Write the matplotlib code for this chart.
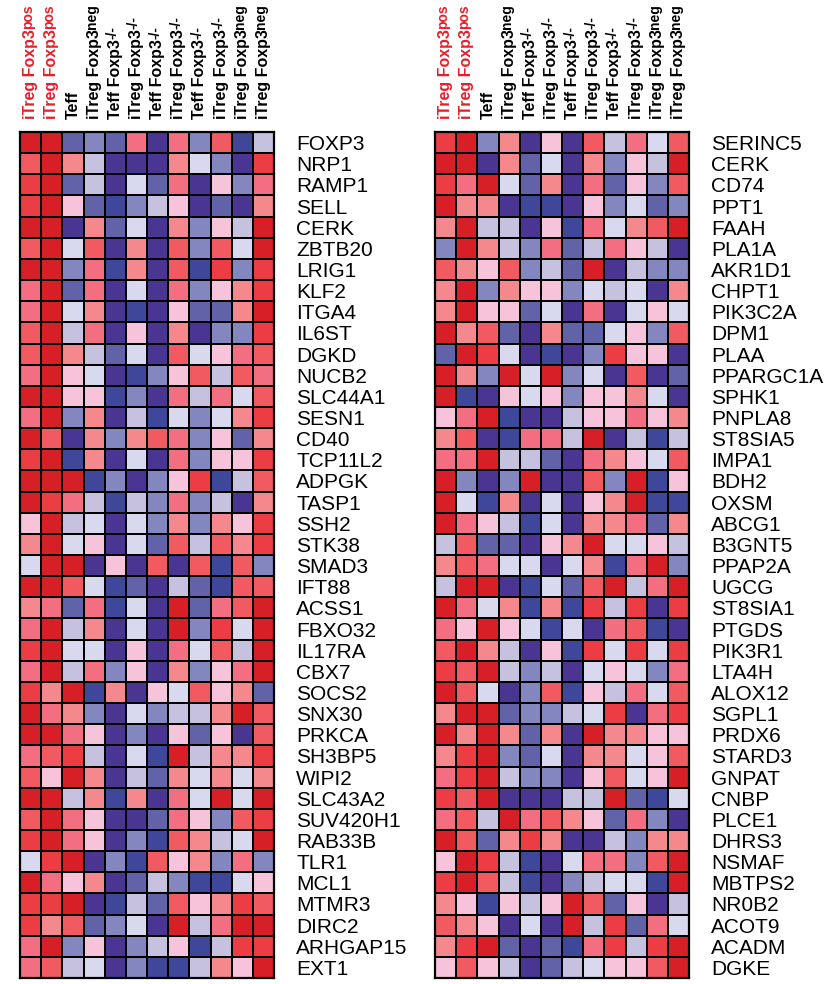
import numpy as np
import matplotlib
matplotlib.use("Agg")
import matplotlib.pyplot as plt
from matplotlib.colors import ListedColormap, BoundaryNorm

plt.rcParams['font.family'] = ['Liberation Sans', 'DejaVu Sans']

# Sample columns: (label, superscript, highlighted)
columns = [
    ("iTreg Foxp3", "pos", True),
    ("iTreg Foxp3", "pos", True),
    ("Teff", "", False),
    ("iTreg Foxp3", "neg", False),
    ("Teff Foxp3", "-/-", False),
    ("iTreg Foxp3", "-/-", False),
    ("Teff Foxp3", "-/-", False),
    ("iTreg Foxp3", "-/-", False),
    ("Teff Foxp3", "-/-", False),
    ("iTreg Foxp3", "-/-", False),
    ("iTreg Foxp3", "neg", False),
    ("iTreg Foxp3", "neg", False),
]

left_genes = ["FOXP3", "NRP1", "RAMP1", "SELL", "CERK", "ZBTB20", "LRIG1", "KLF2",
              "ITGA4", "IL6ST", "DGKD", "NUCB2", "SLC44A1", "SESN1", "CD40", "TCP11L2",
              "ADPGK", "TASP1", "SSH2", "STK38", "SMAD3", "IFT88", "ACSS1", "FBXO32",
              "IL17RA", "CBX7", "SOCS2", "SNX30", "PRKCA", "SH3BP5", "WIPI2", "SLC43A2",
              "SUV420H1", "RAB33B", "TLR1", "MCL1", "MTMR3", "DIRC2", "ARHGAP15", "EXT1"]

right_genes = ["SERINC5", "CERK", "CD74", "PPT1", "FAAH", "PLA1A", "AKR1D1", "CHPT1",
               "PIK3C2A", "DPM1", "PLAA", "PPARGC1A", "SPHK1", "PNPLA8", "ST8SIA5", "IMPA1",
               "BDH2", "OXSM", "ABCG1", "B3GNT5", "PPAP2A", "UGCG", "ST8SIA1", "PTGDS",
               "PIK3R1", "LTA4H", "ALOX12", "SGPL1", "PRDX6", "STARD3", "GNPAT", "CNBP",
               "PLCE1", "DHRS3", "NSMAF", "MBTPS2", "NR0B2", "ACOT9", "ACADM", "DGKE"]

# Binned relative expression (-6 = lowest ... +6 = highest)
left_scores = [
    [6, 6, -4, -3, -4, 3, -6, 3, -3, 4, -5, -2],
    [4, 6, 2, -2, -6, -6, -6, 2, -1, -3, -6, 5],
    [5, 6, -4, -2, -6, -1, -4, 3, -6, 1, -3, 3],
    [5, 6, 1, -4, -5, -3, -2, 1, -6, -4, -6, 2],
    [6, 6, -6, 2, -4, -1, -6, 2, -3, 1, -2, 6],
    [4, 6, -1, 4, -6, 2, -6, 4, -3, 4, -1, 6],
    [6, 6, -3, 3, -5, 2, -6, 4, -5, 5, -3, 5],
    [3, 6, -4, 3, -6, -1, -6, 3, -3, 1, 2, 5],
    [3, 6, -1, 2, -6, -5, -6, 1, -4, -4, 2, 6],
    [4, 6, -2, 3, -6, 1, -6, 2, -6, -3, -3, 5],
    [4, 6, 2, -2, -4, -1, -6, 4, -1, 1, 3, 4],
    [3, 6, 1, -1, -6, -5, -3, 1, 4, -2, 4, 3],
    [6, 6, 1, 1, -5, -3, -6, 3, -2, 3, -1, 4],
    [3, 6, -3, 2, -6, -2, -5, -1, -3, -1, 2, 5],
    [6, 4, -6, 2, -3, 2, 4, 3, -3, 1, -4, 2],
    [5, 6, -5, 2, -6, -1, -6, 3, -3, 1, 1, 5],
    [6, 6, 6, -5, -3, -6, -3, 1, 5, -5, -2, 4],
    [6, 5, 3, -2, -5, -2, -3, 3, -3, -2, -6, 2],
    [1, 6, -2, -1, -6, -1, -3, 2, -3, 2, 1, 5],
    [2, 6, -1, 1, -6, -1, -4, 4, -2, 4, 2, 5],
    [-1, 6, 6, -6, 1, -6, 4, -6, 4, -5, 4, -3],
    [6, 6, 4, -1, -5, -4, -6, -2, -4, -5, 4, 4],
    [2, 3, -4, 3, -5, -1, -6, 6, -4, 3, 4, 6],
    [3, 6, -2, 2, -6, -1, -6, 6, -3, 5, -1, 6],
    [5, 6, -1, -1, -6, 1, -6, 3, -1, 4, -2, 6],
    [3, 6, -2, 3, -3, 1, -6, 2, -3, 1, 3, 6],
    [5, 2, 6, -5, 2, -6, 1, -1, 4, 1, 2, -4],
    [6, 3, 2, -3, -6, -1, -3, -2, -2, 2, 6, 4],
    [6, 6, 3, 1, -6, -3, -6, 1, -4, 1, -6, 4],
    [3, 4, 5, -2, -6, -1, -5, 6, -2, 2, 2, 5],
    [4, 1, 6, 2, -6, -2, -4, 2, -1, 2, -1, 2],
    [6, 6, -2, 2, -5, 2, -6, 3, -1, 6, -1, 6],
    [4, 6, 3, 1, -6, -6, -4, 3, 1, -3, 4, 5],
    [5, 6, 3, 1, -6, -3, -5, 4, 2, -2, -1, 6],
    [-1, 5, 6, -6, -3, -5, 4, 1, 2, -3, 3, -3],
    [6, 3, 1, 2, -6, -4, -2, -3, -5, -5, -1, 1],
    [5, 5, 6, -6, -5, -2, -4, 4, 1, 2, 5, 4],
    [5, 2, 4, -4, -3, -1, -6, 6, -2, 3, 6, 6],
    [3, 6, -3, 1, -6, -3, -2, 1, -5, -2, 5, 5],
    [3, 4, -2, -1, -6, -3, -5, -5, -2, 2, 1, 6],
]

right_scores = [
    [5, 6, -3, 2, -6, 1, -6, 4, -2, 3, -1, 4],
    [6, 6, -6, 2, -4, -1, -6, 2, -3, 1, -2, 6],
    [5, 3, 6, -1, -4, 2, -6, 3, -4, 1, -3, 4],
    [6, 2, 2, -6, -5, -5, -6, 1, -3, -1, -4, -3],
    [2, 6, -2, -2, -6, 1, -5, 3, -1, 2, 4, 6],
    [-3, 6, 2, -2, -3, 3, -4, -2, 3, 1, -2, -6],
    [4, 2, 1, 4, -3, -2, -4, 6, -6, -2, -3, -3],
    [2, 6, -3, 2, 1, 1, -3, -1, -2, -1, -6, 2],
    [2, 6, 1, 1, -4, -1, -6, 3, -6, -1, 1, -1],
    [6, 2, 4, -4, -6, 2, -4, -4, -1, 1, -3, 4],
    [-4, 6, 5, -1, -6, -5, -6, -3, 5, 1, 1, -6],
    [6, 2, -3, 6, -1, 6, -3, -1, -6, 4, -6, -4],
    [6, -5, -6, 1, -1, 1, -3, 1, 1, 2, -1, -6],
    [1, 3, 6, -5, -6, -6, -2, 1, 1, 3, 1, 2],
    [2, 4, -6, -5, 3, 3, -2, 6, -6, -2, -5, -2],
    [3, 3, 6, -2, -2, -4, -6, 3, 2, 1, -1, 4],
    [6, -3, -6, -3, 6, -6, -6, 4, -3, 6, -5, 1],
    [6, -1, -5, 2, -6, -1, -6, 1, 2, 6, -5, -5],
    [6, 3, 1, -2, -5, -1, -6, 2, 2, 3, -4, 2],
    [-2, 4, -4, -4, -6, 1, 2, 6, -1, -1, 1, -2],
    [2, 4, 3, -1, -1, -6, -1, 2, -5, 3, 6, -3],
    [-2, 6, 6, -6, -5, -1, -4, 4, 6, -2, 3, 6],
    [6, 3, -1, 2, -5, 2, -5, 5, -2, 5, -6, 5],
    [3, 1, 6, 1, -1, -5, -1, -6, 3, 4, -5, -6],
    [4, 6, 2, -2, -6, 1, -5, 5, -1, 5, -1, 5],
    [5, 4, 6, -2, -3, -2, -6, -1, 1, -1, -3, 3],
    [6, 4, -1, -6, -3, 4, -5, 1, -2, 3, -1, 4],
    [2, 6, 6, -4, -3, -3, -2, -1, 5, -6, 3, 5],
    [6, 2, 6, 2, -4, 2, -6, 6, 2, 2, 1, 1],
    [2, 5, 6, -3, -4, -1, -6, 2, 2, -1, 1, 4],
    [3, 5, 6, -2, -3, -3, -6, 1, 4, -1, 1, 6],
    [5, 4, 6, -6, -6, -6, -2, -2, 6, -4, -5, -1],
    [3, 4, -2, 6, 3, 4, 2, 1, -4, 3, -3, -6],
    [6, 4, -4, 2, 5, 2, -6, -6, -2, -3, 2, 2],
    [1, 6, 5, -2, -5, -6, -1, 3, 3, -3, 4, 6],
    [5, 6, 4, -2, -5, -6, -3, -2, -1, -1, -5, 6],
    [2, 1, -5, 1, -2, 1, 6, 4, -4, 1, -6, -2],
    [4, 2, 1, -6, -1, -6, 6, -2, 5, -4, 3, -1],
    [2, 5, 6, -4, -6, -4, -5, 3, 5, -2, 5, 6],
    [1, 4, 1, -2, -6, -4, -2, -1, 1, 1, 4, 6],
]

# Diverging blue-white-red palette, one colour per expression bin
palette = ["#4b3593", "#3e4799", "#6262a8", "#8486c0", "#c7c1e0", "#d8d8ee",
           "#f7c3db", "#f4888c", "#f26e80", "#f05a60", "#ec3c44", "#d71f27"]
cmap = ListedColormap(palette)
norm = BoundaryNorm([-6.5, -5.5, -4.5, -3.5, -2.5, -1.5, 0, 1.5, 2.5, 3.5, 4.5, 5.5, 6.5], cmap.N)

W, H = 838, 984
fig = plt.figure(figsize=(W / 100, H / 100), dpi=100)

panel_top, panel_bottom = 132, 978
panels = [(20, 274, left_genes, left_scores), (435, 689, right_genes, right_scores)]

header_red = "#e5202a"
axes = []
for x0, x1, genes, scores in panels:
    ax = fig.add_axes([x0 / W, (H - panel_bottom) / H, (x1 - x0) / W, (panel_bottom - panel_top) / H])
    data = np.array(scores, dtype=float)
    nrow, ncol = data.shape
    ax.pcolormesh(np.arange(ncol + 1), np.arange(nrow + 1), data, cmap=cmap, norm=norm,
                  edgecolor="black", linewidth=1.4)
    ax.set_xlim(0, ncol)
    ax.set_ylim(nrow, 0)
    ax.set_xticks([])
    ax.yaxis.tick_right()
    ax.set_yticks(np.arange(nrow) + 0.5)
    ax.set_yticklabels(genes, fontsize=15)
    ax.tick_params(axis="y", length=0, pad=16)
    for sp in ax.spines.values():
        sp.set_linewidth(1.6)
    axes.append((ax, ncol))

# Column headers, rotated, with superscript genotype tags
fig.canvas.draw()
renderer = fig.canvas.get_renderer()
for ax, ncol in axes:
    for j, (main, sup, hi) in enumerate(columns):
        color = header_red if hi else "black"
        xd, yd = ax.transData.transform((j + 0.5, 0))
        t = fig.text(xd / W, (yd + 13) / H, main, rotation=90, ha="center", va="bottom",
                     fontsize=11.5, fontweight="bold", color=color)
        if sup:
            bb = t.get_window_extent(renderer)
            fig.text((bb.x0 - 2) / W, (bb.y1 + 0.5) / H, sup, rotation=90, ha="left",
                     va="bottom", fontsize=10, fontweight="bold", color=color)

fig.savefig("out.png", dpi=100)
